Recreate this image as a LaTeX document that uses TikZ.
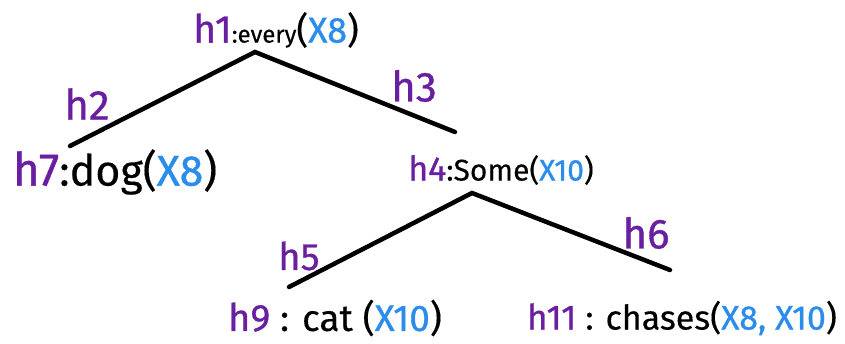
\documentclass[tikz,border=0pt]{standalone}
\usepackage{fontspec}
\setmainfont{Fira Sans}[FakeBold=0.3]
\newfontfamily\hfont[FakeBold=0.8]{Fira Sans}
\definecolor{hpurple}{HTML}{6A1FA0}
\definecolor{xblue}{HTML}{2A8CEB}
\newcommand{\hh}[2]{{\color{hpurple}\hfont\fontsize{#1}{#1}\selectfont #2}}
\newcommand{\xx}[2]{{\color{xblue}\hfont\fontsize{#1}{#1}\selectfont #2}}
\newcommand{\pp}[2]{{\fontsize{#1}{#1}\selectfont #2}}
\begin{document}
\begin{tikzpicture}[x=1pt,y=-1pt,
  branch/.style={line width=4.5pt,line cap=round,black},
  lbl/.style={inner sep=0pt,anchor=center},
  elbl/.style={inner sep=0pt,anchor=center,text=hpurple,font=\hfont\fontsize{42}{42}\selectfont}]
\useasboundingbox (0,0) rectangle (845,343);
% nodes
\node[lbl] (h1) at (276,30) {\hh{39}{h1}\pp{24}{:every}\pp{36}{(}\xx{36}{X8}\pp{36}{)}};
\node[lbl] (h7) at (115,172) {\hh{46}{h7}\pp{43}{:dog(}\xx{43}{X8}\pp{43}{)}};
\node[lbl] (h4) at (501,170) {\hh{34}{h4}\pp{30}{:Some}\pp{30}{(}\xx{30}{X10}\pp{30}{)}};
\node[lbl] (h9) at (335,318) {\hh{38}{h9}\pp{37}{ : cat (}\xx{37}{X10}\pp{37}{)}};
\node[lbl] (h11) at (682,318) {\hh{35}{h11}\pp{34}{ : chases(}\xx{34}{X8, X10}\pp{34}{)}};
% branch points
\coordinate (a1) at (255,52);
\coordinate (l1) at (70,146);
\coordinate (r1) at (455,132);
\coordinate (a2) at (472,193);
\coordinate (l2) at (289,287);
\coordinate (r2) at (670,270);
\draw[branch] (l1) -- (a1) -- (r1);
\draw[branch] (l2) -- (a2) -- (r2);
% edge labels
\node[elbl] (h2) at (87,104) {h2};
\node[elbl] (h3) at (414,86) {h3};
\node[elbl,font=\hfont\fontsize{38}{38}\selectfont] (h5) at (299,256) {h5};
\node[elbl] (h6) at (646,233) {h6};
\end{tikzpicture}
\end{document}
